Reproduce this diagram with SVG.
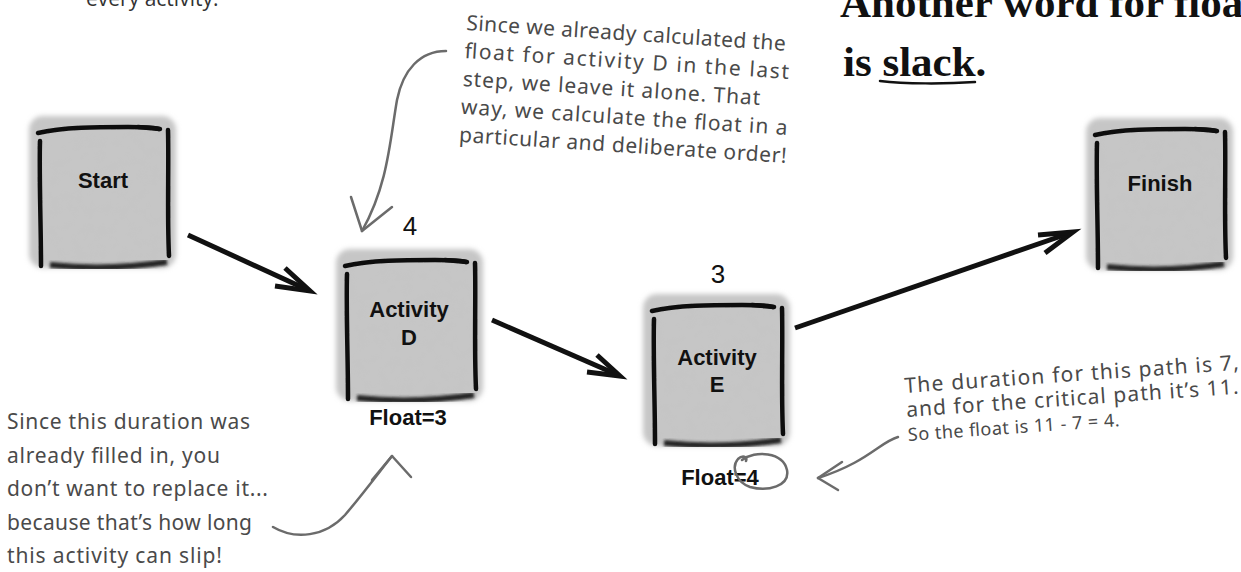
<svg xmlns="http://www.w3.org/2000/svg" xmlns:xlink="http://www.w3.org/1999/xlink" width="1241" height="572" viewBox="0 0 1241 572">
<style>
.lbl{font-family:"Liberation Sans",Arial,sans-serif;font-weight:bold;font-size:22px;fill:#111;text-anchor:middle}
.num{font-family:"Liberation Sans",Arial,sans-serif;font-size:26px;fill:#111;text-anchor:middle}
.hand{font-family:"Noto Sans","DejaVu Sans",sans-serif;font-size:21px;fill:#4a4a4a}
.title{font-family:"Liberation Serif","Times New Roman",serif;font-weight:bold;font-size:43px;fill:#111}
.conn{fill:none;stroke:#111;stroke-width:5;stroke-linecap:butt;stroke-linejoin:miter}
.note{fill:none;stroke:#6b6b6b;stroke-width:2.5;stroke-linecap:round;stroke-linejoin:round}
.edge{fill:none;stroke:#111;stroke-width:4.5;stroke-linecap:round}
</style>
<defs>
<filter id="soft" x="-10%" y="-10%" width="120%" height="120%"><feGaussianBlur stdDeviation="2.5"/></filter>
<filter id="soft2" x="-10%" y="-10%" width="120%" height="120%"><feGaussianBlur stdDeviation="0.7"/></filter>
<filter id="soft3" x="-10%" y="-20%" width="120%" height="140%"><feGaussianBlur stdDeviation="1.8"/></filter>
<filter id="tex" x="0" y="0" width="100%" height="100%">
<feTurbulence type="fractalNoise" baseFrequency="0.09" numOctaves="2" seed="7" result="n"/>
<feColorMatrix in="n" type="matrix" values="0 0 0 0 0.55  0 0 0 0 0.55  0 0 0 0 0.55  0 0 0 -1.2 0.72" result="m"/>
<feComposite in="m" in2="SourceGraphic" operator="in"/>
</filter>
<symbol id="box" overflow="visible">
<rect x="1" y="1" width="147" height="152" rx="14" fill="#c6c6c6" filter="url(#soft)"/>
<rect x="10" y="12" width="130" height="136" fill="#c6c6c6" filter="url(#tex)"/>
<path d="M22,150 C60,154 100,153 139,147" fill="none" stroke="#222" stroke-width="6" filter="url(#soft3)"/>
<g filter="url(#soft2)">
<path class="edge" d="M10,18 C35,12 70,12 100,12 C115,12 125,12 131,14"/>
<path class="edge" d="M12,26 C11,60 13,110 13,151"/>
<path class="edge" d="M140,15 C141,50 139,100 141,141"/>
<path class="edge" d="M110,12 L132,14" stroke-width="6"/>
</g>
</symbol>
</defs>
<rect width="1241" height="572" fill="#fff"/>
<text x="86" y="6" style="font-family:'Open Sans','Liberation Sans',sans-serif;font-size:21px;fill:#333">every activity.</text>
<g id="title">
<text class="title" x="840" y="17">Another word for float</text>
<text class="title" x="843" y="76">is slack.</text>
<path d="M880,81 C905,84 945,84 975,82" fill="none" stroke="#111" stroke-width="2.5" stroke-linecap="round"/>
</g>
<g id="connectors">
<path class="conn" d="M188,235 L308,290"/>
<polyline class="conn" points="275,286 310,291 285,268"/>
<path class="conn" d="M492,320 L618,375"/>
<polyline class="conn" points="587,372 620,376 597,355"/>
<path class="conn" d="M795,328 L1070,233"/>
<polyline class="conn" points="1038,235 1073,232 1045,253"/>
</g>
<g id="node-start">
<use xlink:href="#box" x="28" y="115"/>
<text class="lbl" x="103" y="188">Start</text>
</g>
<g id="node-d">
<use xlink:href="#box" x="335" y="248"/>
<text class="num" x="410" y="235">4</text>
<text class="lbl" x="409" y="317">Activity</text>
<text class="lbl" x="409" y="345">D</text>
<text class="lbl" x="408" y="425">Float=3</text>
</g>
<g id="node-e">
<use xlink:href="#box" x="642" y="293"/>
<text class="num" x="718" y="283">3</text>
<text class="lbl" x="717" y="365">Activity</text>
<text class="lbl" x="717" y="392">E</text>
<text class="lbl" x="720" y="485">Float=4</text>
<path class="note" d="M742,460 C755,450 783,452 787,470 C790,486 768,492 750,487 C736,482 731,467 738,459 C742,455 748,456 746,461"/>
</g>
<g id="node-finish">
<use xlink:href="#box" x="1085" y="117"/>
<text class="lbl" x="1160" y="191">Finish</text>
</g>
<g id="note-top">
<g transform="rotate(3.7 466 30)">
<text class="hand" x="466" y="30" textLength="320">Since we already calculated the</text>
<text class="hand" x="466" y="58" textLength="325">float for activity D in the last</text>
<text class="hand" x="466" y="86" textLength="298">step, we leave it alone. That</text>
<text class="hand" x="466" y="114" textLength="327">way, we calculate the float in a</text>
<text class="hand" x="466" y="142" textLength="328">particular and deliberate order!</text>
</g>
<path class="note" d="M446,51 C420,51 403,70 397,100 C390,140 388,185 362,231"/>
<polyline class="note" points="351,197 362,231 392,207"/>
</g>
<g id="note-left">
<text class="hand" x="7" y="429" textLength="243">Since this duration was</text>
<text class="hand" x="7" y="463" textLength="213">already filled in, you</text>
<text class="hand" x="7" y="496" textLength="261">don’t want to replace it...</text>
<text class="hand" x="7" y="530" textLength="245">because that’s how long</text>
<text class="hand" x="7" y="563" textLength="215">this activity can slip!</text>
<path class="note" d="M273,527 C295,540 325,537 345,515 C362,495 377,475 392,456"/>
<polyline class="note" points="372,480 392,456 411,477"/>
</g>
<g id="note-right">
<g transform="rotate(-4 905 393)">
<text class="hand" x="905" y="393" textLength="335">The duration for this path is 7,</text>
<text class="hand" x="905" y="417" textLength="333">and for the critical path it’s 11.</text>
<text class="hand" x="905" y="441" textLength="212" style="font-size:18px">So the float is 11 - 7 = 4.</text>
</g>
<path class="note" d="M898,437 C880,442 868,462 818,478"/>
<polyline class="note" points="842,462 818,478 838,490"/>
</g>
</svg>
